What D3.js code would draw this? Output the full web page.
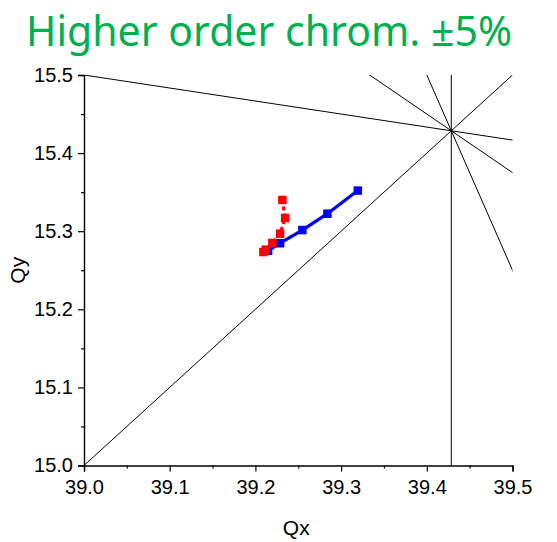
<!DOCTYPE html>
<html>
<head>
<meta charset="utf-8">
<script src="https://cdn.jsdelivr.net/npm/d3@7"></script>
<style>
  body { margin: 0; background: #fff; }
  text { font-family: "Liberation Sans", Arial, sans-serif; }
</style>
</head>
<body>
<div id="chart"></div>
<script>
const MARGIN = {TOP: 75, BOTTOM: 76.5, LEFT: 84, RIGHT: 44.5};
const WIDTH = 557 - MARGIN.LEFT - MARGIN.RIGHT;
const HEIGHT = 542 - MARGIN.TOP - MARGIN.BOTTOM;

// tune points
const blueQx = [39.2148, 39.2288, 39.2548, 39.2840, 39.3195];
const blueQy = [15.2750, 15.2846, 15.3015, 15.3224, 15.3520];
const redQx = [39.2093, 39.2121, 39.2198, 39.2288, 39.2347, 39.2315];
const redQy = [15.2733, 15.2763, 15.2849, 15.2968, 15.3169, 15.3400];

// resonance lines a*Qx + b*Qy = c
const resonances = [[1, -1, 24], [1, 6, 132], [3, 4, 180], [5, 2, 228], [7, 0, 276]];

const xTicks = [39.0, 39.1, 39.2, 39.3, 39.4, 39.5];
const yTicks = [15.0, 15.1, 15.2, 15.3, 15.4, 15.5];
const xMinor = [39.05, 39.15, 39.25, 39.35, 39.45];
const yMinor = [15.05, 15.15, 15.25, 15.35, 15.45];

const svgRoot = d3.select("#chart").append("svg")
    .attr("width", 557)
    .attr("height", 542)

svgRoot.append("text")
    .attr("x", 26)
    .attr("y", 46)
    .attr("font-size", 42)
    .attr("textLength", 486)
    .attr("lengthAdjust", "spacingAndGlyphs")
    .style("font-family", "'Noto Sans', 'Open Sans', sans-serif")
    .attr("fill", "#00b050")
    .text("Higher order chrom. \u00b15%")

const svg = svgRoot.append("g")
    .attr("transform", `translate(${MARGIN.LEFT},${MARGIN.TOP})`)

const x = d3.scaleLinear().domain([39.0, 39.5]).range([0, WIDTH])
const y = d3.scaleLinear().domain([15.0, 15.5]).range([HEIGHT, 0])

svg.append("clipPath").attr("id", "plot-clip")
    .append("rect").attr("width", WIDTH).attr("height", HEIGHT)

// resonance lines
const resG = svg.append("g").attr("clip-path", "url(#plot-clip)")
resonances.forEach(([a, b, c]) => {
    let p
    if (b === 0) {
        p = [[c / a, 14.5], [c / a, 16]]
    } else {
        p = [38.5, 40].map(q => [q, (c - a * q) / b])
    }
    resG.append("line")
        .attr("x1", x(p[0][0])).attr("y1", y(p[0][1]))
        .attr("x2", x(p[1][0])).attr("y2", y(p[1][1]))
        .attr("stroke", "#000")
        .attr("stroke-width", 1)
})

// axes
const xAxisGroup = svg.append("g").attr("transform", `translate(0,${HEIGHT})`)
xAxisGroup.call(d3.axisBottom(x).tickValues(xTicks).tickFormat(d3.format(".1f"))
    .tickSize(6).tickPadding(8))
const xMinorGroup = svg.append("g").attr("transform", `translate(0,${HEIGHT})`)
xMinorGroup.call(d3.axisBottom(x).tickValues(xMinor).tickFormat("").tickSize(3))

const yAxisGroup = svg.append("g")
yAxisGroup.call(d3.axisLeft(y).tickValues(yTicks).tickFormat(d3.format(".1f"))
    .tickSize(6).tickPadding(5))
const yMinorGroup = svg.append("g")
yMinorGroup.call(d3.axisLeft(y).tickValues(yMinor).tickFormat("").tickSize(3))

svg.selectAll(".domain").attr("stroke-width", 1.4)
svg.selectAll(".tick line").attr("stroke-width", 1.2)
svg.selectAll(".tick text")
    .attr("font-size", 20)
    .style("font-family", "'Liberation Sans', Arial, sans-serif")
    .attr("fill", "#000")
xMinorGroup.select(".domain").remove()
yMinorGroup.select(".domain").remove()

svgRoot.append("text")
    .attr("x", MARGIN.LEFT + x(39.25) - 2)
    .attr("y", 535)
    .attr("text-anchor", "middle")
    .attr("font-size", 21)
    .text("Qx")

svgRoot.append("text")
    .attr("transform", `translate(25,${MARGIN.TOP + y(15.25)}) rotate(-90)`)
    .attr("text-anchor", "middle")
    .attr("font-size", 21)
    .text("Qy")

// series
const series = [
    {qx: blueQx, qy: blueQy, color: "#0000ff", dash: null},
    {qx: redQx, qy: redQy, color: "#ff0000", dash: "4,3"}
]
const line = d3.line().x(d => x(d[0])).y(d => y(d[1]))
series.forEach(s => {
    const pts = s.qx.map((q, i) => [q, s.qy[i]])
    svg.append("path")
        .datum(pts)
        .attr("d", line)
        .attr("fill", "none")
        .attr("stroke", s.color)
        .attr("stroke-width", 3.2)
        .attr("stroke-dasharray", s.dash)
    const sz = 8.5
    svg.selectAll(null).data(pts).enter().append("rect")
        .attr("x", d => x(d[0]) - sz / 2)
        .attr("y", d => y(d[1]) - sz / 2)
        .attr("width", sz)
        .attr("height", sz)
        .attr("fill", s.color)
})
</script>
</body>
</html>
